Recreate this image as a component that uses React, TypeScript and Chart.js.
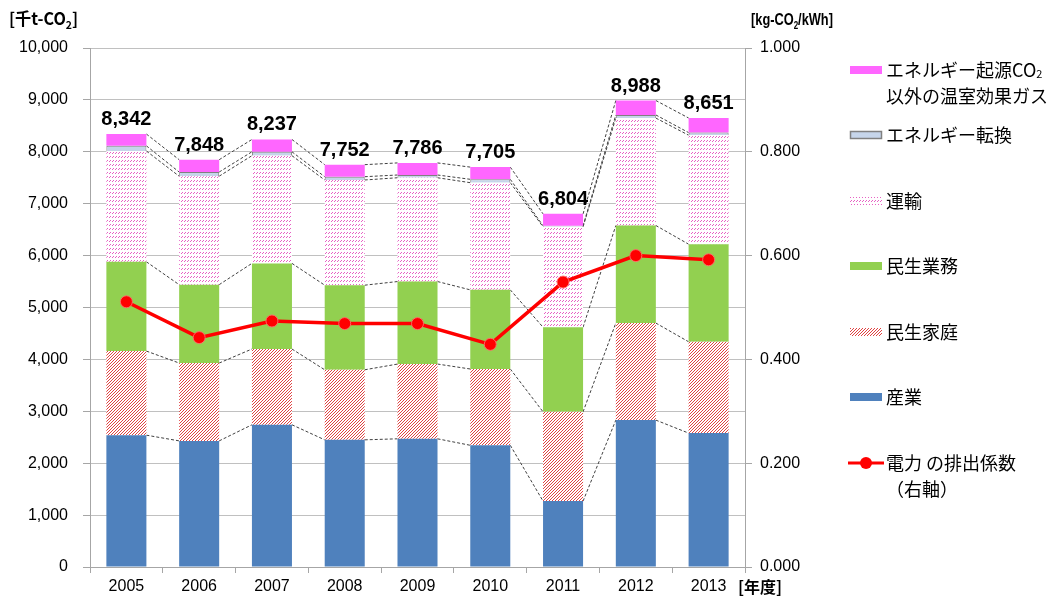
import { useEffect, useRef } from 'react';
import { Chart, registerables } from 'chart.js';

Chart.register(...registerables);

const years = ['2005', '2006', '2007', '2008', '2009', '2010', '2011', '2012', '2013'];
const industry = [2540, 2430, 2740, 2450, 2470, 2345, 1270, 2830, 2580];
const household = [1620, 1500, 1460, 1350, 1440, 1470, 1720, 1870, 1760];
const business = [1720, 1510, 1650, 1630, 1590, 1525, 1630, 1880, 1880];
const transport = [2135, 2090, 2075, 2027, 2000, 2065, 1935, 2070, 2100];
const conversion = [100, 80, 75, 63, 53, 65, 20, 60, 50];
const otherGas = [227, 238, 237, 232, 233, 235, 229, 278, 281];
const totalLabels = ['8,342', '7,848', '8,237', '7,752', '7,786', '7,705', '6,804', '8,988', '8,651'];
const emissionFactor = [0.511, 0.442, 0.474, 0.469, 0.469, 0.429, 0.549, 0.6, 0.592];

const JP = '"Noto Sans CJK JP", sans-serif';
const NUM = '"Liberation Sans", Arial, sans-serif';

function makePattern(kind: 'transport' | 'household'): CanvasPattern | string {
  const c = document.createElement('canvas');
  const ctx = c.getContext('2d');
  if (!ctx) return '#fff';
  if (kind === 'transport') {
    c.width = 3;
    c.height = 4;
    ctx.fillStyle = '#ffffff';
    ctx.fillRect(0, 0, 3, 4);
    ctx.fillStyle = 'rgba(228,80,190,0.9)';
    ctx.fillRect(2, 0, 1, 1);
    ctx.fillRect(1, 1, 1, 1);
  } else {
    c.width = 3;
    c.height = 3;
    ctx.fillStyle = '#ffffff';
    ctx.fillRect(0, 0, 3, 3);
    ctx.fillStyle = 'rgba(222,55,55,0.95)';
    ctx.fillRect(2, 0, 1, 1);
    ctx.fillRect(1, 1, 1, 1);
    ctx.fillRect(0, 2, 1, 1);
  }
  const p = ctx.createPattern(c, 'repeat');
  return p || '#fff';
}

function drawSubText(ctx: CanvasRenderingContext2D, parts: [string, boolean][], x: number, y: number, size: number, bold: boolean, family: string) {
  let cx = x;
  for (const [txt, sub] of parts) {
    const fs = sub ? Math.round(size * 0.62) : size;
    ctx.font = `${bold ? 'bold ' : ''}${fs}px ${family}`;
    ctx.fillText(txt, cx, sub ? y + size * 0.22 : y);
    cx += ctx.measureText(txt).width;
  }
}

export default function App() {
  const ref = useRef<HTMLCanvasElement | null>(null);

  useEffect(() => {
    document.body.style.margin = '0';
    document.body.style.overflow = 'hidden';
    const canvas = ref.current;
    if (!canvas) return;
    const transportPat = makePattern('transport');
    const householdPat = makePattern('household');

    const colors = {
      industry: '#4F81BD',
      business: '#92D050',
      conversion: '#C6D5EA',
      other: '#FF66FF',
      line: '#FF0000',
    };

    const connectors = {
      id: 'connectors',
      beforeDatasetsDraw(chart: any) {
        const ctx = chart.ctx;
        ctx.save();
        ctx.strokeStyle = '#404040';
        ctx.lineWidth = 1;
        ctx.setLineDash([3, 2]);
        for (let d = 0; d < 6; d++) {
          const meta = chart.getDatasetMeta(d);
          const els = meta.data;
          for (let j = 0; j < els.length - 1; j++) {
            const a = els[j];
            const b = els[j + 1];
            ctx.beginPath();
            ctx.moveTo(a.x + a.width / 2, a.y);
            ctx.lineTo(b.x - b.width / 2, b.y);
            ctx.stroke();
          }
        }
        ctx.restore();
      },
    };

    const overlay = {
      id: 'overlay',
      afterDraw(chart: any) {
        const ctx = chart.ctx as CanvasRenderingContext2D;
        ctx.save();
        ctx.fillStyle = '#000';
        ctx.textBaseline = 'alphabetic';
        // total labels
        const topMeta = chart.getDatasetMeta(5);
        ctx.font = `bold 20px ${NUM}`;
        ctx.textAlign = 'center';
        topMeta.data.forEach((el: any, i: number) => {
          ctx.fillText(totalLabels[i], el.x, el.y - 9);
        });
        ctx.textAlign = 'left';
        // axis titles
        ctx.save();
        ctx.translate(9, 25);
        ctx.scale(0.95, 1);
        drawSubText(ctx, [['[千t-CO', false], ['2', true], [']', false]], 0, 0, 17, true, JP);
        ctx.restore();
        ctx.save();
        ctx.translate(751, 25);
        ctx.scale(0.8, 1);
        drawSubText(ctx, [['[kg-CO', false], ['2', true], ['/kWh]', false]], 0, 0, 16, true, NUM);
        ctx.restore();
        ctx.font = `bold 16px ${JP}`;
        ctx.fillText('[年度]', 738, 593);

        // legend
        const sx = 850;
        const sw = 32;
        const tx = 886;
        const drawSwatch = (cy: number, fill: any, stroke?: string) => {
          ctx.fillStyle = fill;
          ctx.fillRect(sx, cy - 4, sw, 8);
          if (stroke) {
            ctx.strokeStyle = stroke;
            ctx.lineWidth = 1.5;
            ctx.strokeRect(sx + 0.5, cy - 3.5, sw - 1, 7);
          }
        };
        const label = (txt: string, cy: number) => {
          ctx.fillStyle = '#000';
          ctx.font = `18px ${JP}`;
          ctx.textBaseline = 'middle';
          ctx.fillText(txt, tx, cy);
        };
        drawSwatch(70, colors.other);
        ctx.textBaseline = 'middle';
        ctx.fillStyle = '#000';
        drawSubText(ctx, [['エネルギー起源CO', false], ['2', true]], tx, 70, 18, false, JP);
        label('以外の温室効果ガス', 96);
        drawSwatch(135, colors.conversion, '#808080');
        label('エネルギー転換', 135);
        drawSwatch(201, transportPat);
        label('運輸', 201);
        drawSwatch(266, colors.business);
        label('民生業務', 266);
        drawSwatch(332, householdPat);
        label('民生家庭', 332);
        drawSwatch(397, colors.industry);
        label('産業', 397);
        ctx.strokeStyle = colors.line;
        ctx.lineWidth = 3;
        ctx.beginPath();
        ctx.moveTo(sx - 2, 463);
        ctx.lineTo(sx + sw + 2, 463);
        ctx.stroke();
        ctx.fillStyle = colors.line;
        ctx.beginPath();
        ctx.arc(sx + sw / 2, 463, 6, 0, Math.PI * 2);
        ctx.fill();
        label('電力 の排出係数', 463);
        label('（右軸）', 489);
        ctx.restore();
      },
    };

    const barCommon = {
      type: 'bar' as const,
      yAxisID: 'y',
      stack: 's',
      order: 1,
      barPercentage: 0.55,
      categoryPercentage: 1,
      borderWidth: 0,
    };

    const chart = new Chart(canvas, {
      type: 'bar',
      data: {
        labels: years,
        datasets: [
          { ...barCommon, label: '産業', data: industry, backgroundColor: colors.industry },
          { ...barCommon, label: '民生家庭', data: household, backgroundColor: householdPat as any },
          { ...barCommon, label: '民生業務', data: business, backgroundColor: colors.business },
          { ...barCommon, label: '運輸', data: transport, backgroundColor: transportPat as any },
          {
            ...barCommon,
            label: 'エネルギー転換',
            data: conversion,
            backgroundColor: colors.conversion,
            borderColor: '#808080',
            borderWidth: 1,
          },
          { ...barCommon, label: 'エネルギー起源CO2以外の温室効果ガス', data: otherGas, backgroundColor: colors.other },
          {
            type: 'line' as const,
            label: '電力 の排出係数（右軸）',
            data: emissionFactor,
            yAxisID: 'y1',
            order: 0,
            borderColor: colors.line,
            borderWidth: 3.5,
            pointRadius: 6,
            pointBackgroundColor: colors.line,
            pointBorderColor: 'rgba(255,110,110,0.9)',
            pointBorderWidth: 1,
            tension: 0,
          } as any,
        ],
      },
      options: {
        responsive: false,
        animation: false,
        layout: { padding: { top: 48, left: 0, right: 0, bottom: 0 } },
        plugins: { legend: { display: false }, tooltip: { enabled: false } },
        scales: {
          x: {
            stacked: true,
            grid: { display: true, drawOnChartArea: false, offset: true, color: '#A6A6A6', tickLength: 6 },
            border: { color: '#A6A6A6' },
            ticks: { color: '#000', font: { family: NUM, size: 16 }, padding: 4 },
            afterFit(scale: any) {
              scale.height = 32;
            },
          },
          y: {
            stacked: true,
            position: 'left',
            min: 0,
            max: 10000,
            ticks: {
              stepSize: 1000,
              color: '#000',
              font: { family: NUM, size: 16 },
              padding: 15,
              callback: (v: any) => Number(v).toLocaleString('en-US'),
            },
            grid: { color: '#C0C0C0', tickColor: '#A6A6A6', tickLength: 7 },
            border: { color: '#A6A6A6' },
            afterFit(scale: any) {
              scale.width = 90;
            },
          },
          y1: {
            position: 'right',
            min: 0,
            max: 1,
            ticks: {
              stepSize: 0.2,
              color: '#000',
              font: { family: NUM, size: 16 },
              padding: 8,
              callback: (v: any) => Number(v).toFixed(3),
            },
            grid: { drawOnChartArea: false, color: '#A6A6A6', tickLength: 7 },
            border: { color: '#A6A6A6' },
            afterFit(scale: any) {
              scale.width = 314;
            },
          },
        },
      },
      plugins: [connectors, overlay],
    });

    return () => chart.destroy();
  }, []);

  return <canvas ref={ref} width={1059} height={599} style={{ display: 'block' }} />;
}
